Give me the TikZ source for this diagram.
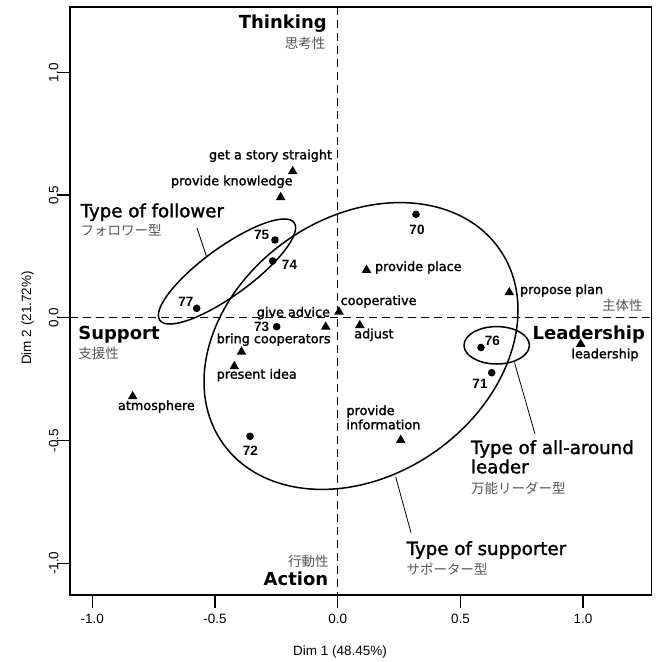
\documentclass[tikz,border=0pt]{standalone}
\usepackage{fontspec}
\usetikzlibrary{shapes.geometric}
\newfontfamily\lblfont{DejaVu Sans}[FakeBold=1.6]
\newfontfamily\hdfont{DejaVu Sans}
\newfontfamily\numfont{Liberation Sans}
\newfontfamily\jpfont{Noto Sans CJK JP}
\definecolor{jpgray}{RGB}{85,85,85}

\begin{document}
\begin{tikzpicture}[x=1pt,y=-1pt,
  every node/.style={inner sep=0pt, outer sep=0pt},
  dotmark/.style={circle, fill=black, minimum size=7.6pt},
  trimark/.style={regular polygon, regular polygon sides=3, fill=black, minimum size=11pt},
  lbl/.style={font=\lblfont\fontsize{12.8}{14}\selectfont},
  num/.style={font=\numfont\bfseries\fontsize{13.5}{15}\selectfont},
  pole/.style={font=\hdfont\bfseries\fontsize{18}{20}\selectfont},
  jp/.style={font=\jpfont\fontsize{13.5}{15}\selectfont, text=jpgray},
  typ/.style={font=\lblfont\fontsize{18.2}{19.4}\selectfont},
  tklbl/.style={font=\numfont\fontsize{13.5}{15}\selectfont},
  frameline/.style={line width=1.3pt},
  axisdash/.style={line width=1.1pt, dash pattern=on 8pt off 5pt},
  grp/.style={line width=1.5pt},
  leader/.style={line width=0.8pt}
]
\useasboundingbox (0,0) rectangle (657,662);

% frame, ticks and axis labels
\draw[frameline] (70,7) rectangle (651.5,595);
\foreach \xv/\t in {92.3/-1.0, 215/-0.5, 337.7/0.0, 460.4/0.5, 583.1/1.0} {
  \draw[frameline] (\xv,595) -- (\xv,608);
  \node[tklbl, anchor=base] at (\xv,623.3) {\t};
}
\foreach \yv/\t in {72.7/1.0, 195/0.5, 317.8/0.0, 440.5/-0.5, 563.3/-1.0} {
  \draw[frameline] (70,\yv) -- (57,\yv);
  \node[tklbl, anchor=base, rotate=90] at (58.3,\yv) {\t};
}
\node[tklbl, anchor=base] (xlab) at (340,655) {Dim 1 (48.45\%)};
\node[tklbl, anchor=base, rotate=90] (ylab) at (31,318) {Dim 2 (21.72\%)};

% zero lines
\draw[axisdash] (337.7,7) -- (337.7,595);
\draw[axisdash] (70,317.8) -- (651.5,317.8);

% group ellipses
\coordinate (supc) at (361,346);
\coordinate (folc) at (227,271.5);
\coordinate (ldrc) at (496.7,345.3);
\draw[grp, rotate around={35:(supc)}] (supc) ellipse [x radius=169pt, y radius=129pt];
\draw[grp, rotate around={36:(folc)}] (folc) ellipse [x radius=83pt, y radius=24pt];
\draw[grp] (ldrc) ellipse [x radius=32.7pt, y radius=18.7pt];

% individuals
\node[dotmark] (p70) at (416,214.3) {};
\node[dotmark] (p75) at (275,240) {};
\node[dotmark] (p74) at (272.7,261) {};
\node[dotmark] (p77) at (196.7,308.3) {};
\node[dotmark] (p73) at (276.7,326.7) {};
\node[dotmark] (p72) at (250,436.3) {};
\node[dotmark] (p76) at (481,347.5) {};
\node[dotmark] (p71) at (491.7,372.7) {};
\node[num, anchor=base] (n70) at (417,234.3) {70};
\node[num, anchor=base] (n75) at (261.7,239.3) {75};
\node[num, anchor=base] (n74) at (289.5,269.3) {74};
\node[num, anchor=base] (n77) at (186,306.7) {77};
\node[num, anchor=base] (n73) at (261.7,331.2) {73};
\node[num, anchor=base] (n72) at (250.3,455) {72};
\node[num, anchor=base] (n76) at (492.3,345.3) {76};
\node[num, anchor=base] (n71) at (480,388.3) {71};

% behaviours
\node[trimark] (tstory) at (292.7,171.3) {};
\node[trimark] (tknow) at (280.7,197.3) {};
\node[trimark] (tplace) at (366.5,270) {};
\node[trimark] (tplan) at (509.3,292.3) {};
\node[trimark] (tcoop) at (339,311.8) {};
\node[trimark] (tadvice) at (325.7,326.8) {};
\node[trimark] (tadjust) at (359.8,325.3) {};
\node[trimark] (tlead) at (580.7,344) {};
\node[trimark] (tbring) at (241.5,351.8) {};
\node[trimark] (tidea) at (234.3,366.3) {};
\node[trimark] (tatmos) at (132.7,396.3) {};
\node[trimark] (tinfo) at (400.7,440.1) {};
\node[lbl, anchor=base] (lstory) at (270.5,159.3) {get a story straight};
\node[lbl, anchor=base] (lknow) at (231.8,185.3) {provide knowledge};
\node[lbl, anchor=base east] (ladvice) at (330,316.7) {give advice};
\node[lbl, anchor=base west] (lcoop) at (340.7,305) {cooperative};
\node[lbl, anchor=base west] (lplace) at (375,271) {provide place};
\node[lbl, anchor=base west] (lplan) at (520,294) {propose plan};
\node[lbl, anchor=base west] (ladjust) at (354.3,338.3) {adjust};
\node[lbl, anchor=base] (llead) at (605,358.3) {leadership};
\node[lbl, anchor=base west] (lbring) at (216.7,343.2) {bring cooperators};
\node[lbl, anchor=base west] (lidea) at (216.7,378.7) {present idea};
\node[lbl, anchor=base west] (latmos) at (118,410) {atmosphere};
\node[lbl, anchor=base west] (linfoa) at (346.5,415) {provide};
\node[lbl, anchor=base west] (linfob) at (346.5,429.3) {information};

% poles of the two dimensions
\node[pole, anchor=base east] (thinking) at (326.7,28.3) {Thinking};
\node[jp, anchor=base east] (thinkingjp) at (325.3,48.9) {思考性};
\node[pole, anchor=base west] (support) at (78.3,339.3) {Support};
\node[jp, anchor=base west] (supportjp) at (78.3,358.1) {支援性};
\node[pole, anchor=base east] (leadership) at (645,339) {Leadership};
\node[jp, anchor=base east] (leadershipjp) at (642.7,310.9) {主体性};
\node[pole, anchor=base east] (action) at (328.3,585) {Action};
\node[jp, anchor=base east] (actionjp) at (328.5,566.8) {行動性};

% group names
\node[typ, anchor=base west] (tfol) at (80.7,217.3) {Type of follower};
\node[jp, anchor=base west] (tfoljp) at (80.7,235.1) {フォロワー型};
\node[typ, anchor=base west] (tldra) at (471,454) {Type of all-around};
\node[typ, anchor=base west] (tldrb) at (471,473.3) {leader};
\node[jp, anchor=base west] (tldrjp) at (471,493.4) {万能リーダー型};
\node[typ, anchor=base west] (tsup) at (406.7,555) {Type of supporter};
\node[jp, anchor=base west] (tsupjp) at (406.7,574.4) {サポーター型};

% leader lines from group names to their ellipses
\coordinate (folA) at (197,228);
\coordinate (folB) at (206.5,256.5);
\coordinate (ldrA) at (514.5,362.5);
\coordinate (ldrB) at (535,434);
\coordinate (supA) at (395.7,477);
\coordinate (supB) at (411,532.7);
\draw[leader] (folA) -- (folB);
\draw[leader] (ldrA) -- (ldrB);
\draw[leader] (supA) -- (supB);
\end{tikzpicture}
\end{document}
